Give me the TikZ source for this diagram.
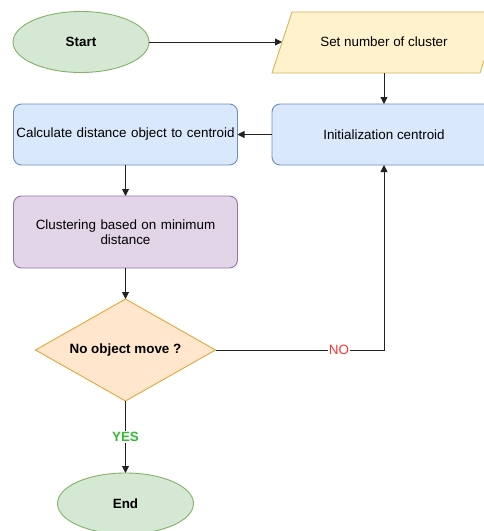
\documentclass[tikz,border=0pt]{standalone}
\usepackage{fontspec}
\setmainfont{Liberation Sans}
\usetikzlibrary{shapes.geometric,arrows.meta}
\definecolor{gfill}{HTML}{D5E8D4}\definecolor{gdraw}{HTML}{82B366}
\definecolor{yfill}{HTML}{FFF2CC}\definecolor{ydraw}{HTML}{D6B656}
\definecolor{bfill}{HTML}{DAE8FC}\definecolor{bdraw}{HTML}{6C8EBF}
\definecolor{pfill}{HTML}{E1D5E7}\definecolor{pdraw}{HTML}{9673A6}
\definecolor{ofill}{HTML}{FFE6CC}\definecolor{odraw}{HTML}{E0A83A}
\definecolor{nored}{HTML}{FF3333}\definecolor{yesgreen}{HTML}{33BB33}
\definecolor{edge}{HTML}{222222}
\begin{document}
\begin{tikzpicture}[x=1pt,y=-1pt,
  every node/.style={font=\fontsize{13.4}{16}\selectfont, inner sep=0pt, outer sep=0pt},
  term/.style={ellipse, fill=gfill, draw=gdraw, line width=0.9pt, minimum width=136pt, minimum height=61pt, font=\fontsize{13.4}{16}\selectfont\bfseries},
  procbox/.style={rounded corners=8pt, draw, line width=0.9pt, text width=#1, align=center},
  conn/.style={draw=edge, line width=0.9pt, -{Triangle[length=7pt,width=7pt]}},
  lbl/.style={fill=white, inner sep=1pt, font=\fontsize{13.4}{16}\selectfont}
]
\useasboundingbox (0,0) rectangle (484,531);
\clip (0,0) rectangle (484,531);
% Start
\node[term] (start) at (81,42) {Start};
% parallelogram (input)
\path[fill=yfill, draw=ydraw, line width=0.9pt] (272,73) -- (292,12) -- (500,12) -- (480,73) -- cycle;
\node (setnum) at (384,42) {Set number of cluster};
\coordinate (setin) at (282,42);
\coordinate (setout) at (384,73);
% Initialization centroid
\path[fill=bfill, draw=bdraw, line width=0.9pt, rounded corners=8pt] (272,104) rectangle (496,165);
\node (init) at (384,134.5) {Initialization centroid};
\coordinate (inittop) at (384,104);
\coordinate (initleft) at (272,134.5);
\coordinate (initbot) at (384,165);
% Calculate distance
\node[procbox=224pt, fill=bfill, draw=bdraw, minimum height=61pt] (calc) at (125.5,134.5) {Calculate distance object to centroid};
% Clustering
\node[procbox=224pt, fill=pfill, draw=pdraw, minimum height=72pt] (clus) at (125.5,232) {Clustering based on minimum\\[-1pt]distance};
% Decision
\node[diamond, fill=ofill, draw=odraw, line width=0.9pt, minimum width=180pt, minimum height=102pt, aspect=1.76, inner sep=0pt, font=\fontsize{13.4}{16}\selectfont\bfseries] (dec) at (125.5,350) {No object move ?};
% End
\node[term] (end) at (125.5,503.5) {End};
% connectors
\draw[conn] (start.east) -- (setin);
\draw[conn] (setout) -- (inittop);
\draw[conn] (initleft) -- (calc.east);
\draw[conn] (calc.south) -- (clus.north);
\draw[conn] (clus.south) -- (dec.north);
\draw[conn] (dec.east) -- (384,350) -- (initbot);
\node[lbl, text=nored] (no) at (339,350) {NO};
\draw[conn] (dec.south) -- (end.north);
\node[lbl, text=yesgreen, font=\fontsize{13.4}{16}\selectfont\bfseries] (yes) at (125.5,437) {YES};
\end{tikzpicture}
\end{document}
